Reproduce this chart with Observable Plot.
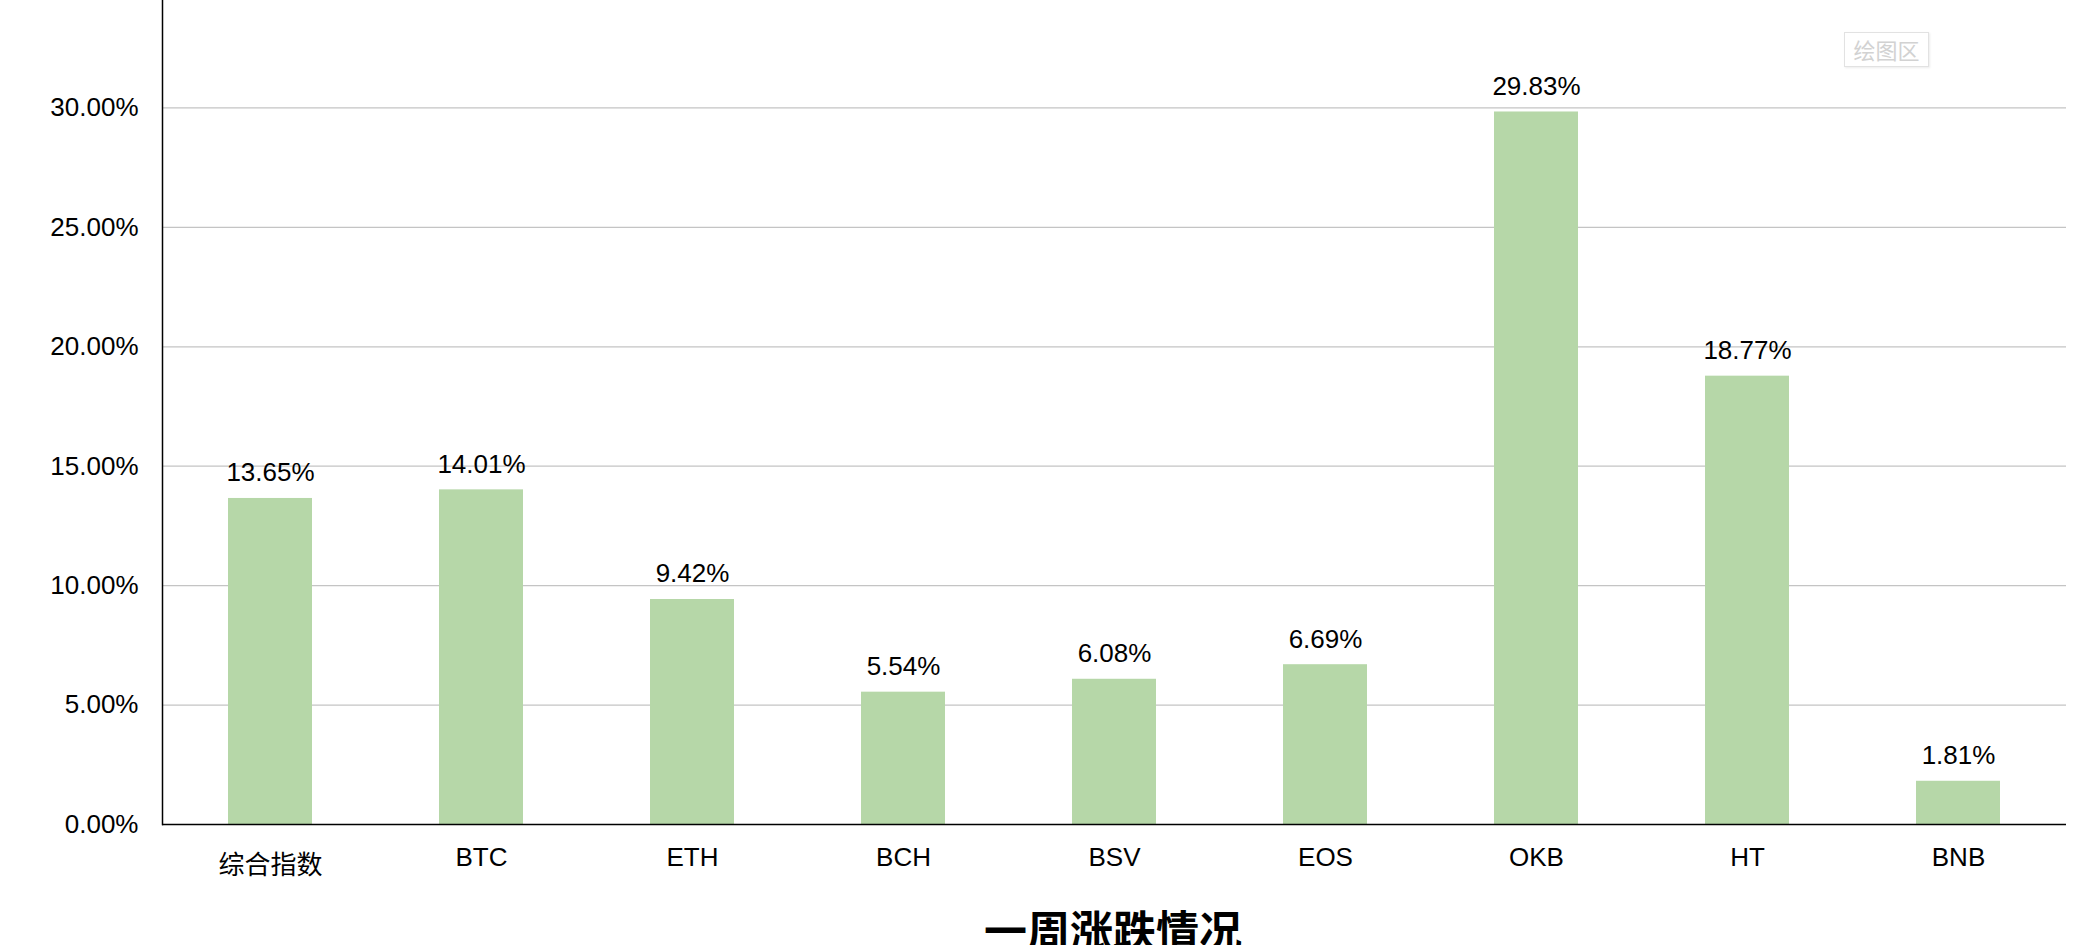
<!DOCTYPE html>
<html>
<head>
<meta charset="utf-8">
<script src="https://cdn.jsdelivr.net/npm/d3@7"></script>
<script src="https://cdn.jsdelivr.net/npm/@observablehq/plot@0.6"></script>
<style>
  html, body { margin: 0; padding: 0; background: #fff; overflow: hidden; }
  #wrap { position: relative; width: 2080px; height: 945px; overflow: hidden; background: #fff; }
  #chart { position: absolute; left: 0; top: -40px; }
  #title { position: absolute; left: 162px; width: 1902px; top: 907px; text-align: center;
           font-family: "Noto Sans CJK SC", sans-serif; font-weight: 700; font-size: 43px; line-height: 43px; color: #000; }
  #badge { position: absolute; left: 1844px; top: 32px; width: 85px; height: 35px; box-sizing: border-box;
           border: 1px solid #e2e2e2; box-shadow: 1px 1px 2px #ececec; color: #d2d2d2;
           font-family: "Noto Sans CJK SC", sans-serif; font-size: 22px; line-height: 33px; text-align: center; }
</style>
</head>
<body>
<div id="wrap">
  <div id="chart"></div>
  <div id="badge">绘图区</div>
  <div id="title">一周涨跌情况</div>
</div>
<script>
const categories = ["综合指数", "BTC", "ETH", "BCH", "BSV", "EOS", "OKB", "HT", "BNB"];
const changes = [0.1365, 0.1401, 0.0942, 0.0554, 0.0608, 0.0669, 0.2983, 0.1877, 0.0181];
const yTicks = [0, 0.05, 0.10, 0.15, 0.20, 0.25, 0.30, 0.35];

const data = categories.map((c, i) => ({name: c, value: changes[i]}));
const pct = d => (d * 100).toFixed(2) + "%";
const font = "'Liberation Sans', Arial, 'Noto Sans CJK SC', sans-serif";

const chart = Plot.plot({
  width: 2080,
  height: 985,
  marginTop: 28,
  marginBottom: 121,
  marginLeft: 162,
  marginRight: 14,
  style: {fontFamily: font, fontSize: "26px", color: "#000", background: "transparent"},
  x: {domain: categories, paddingInner: 0.6, paddingOuter: 0.3, label: null},
  y: {domain: [0, 0.35], label: null},
  marks: [
    Plot.gridY(yTicks.filter(t => t > 0), {stroke: "#c4c4c4", strokeOpacity: 1, strokeWidth: 1.3}),
    Plot.barY(data, {x: "name", y: "value", fill: "#b6d7a8"}),
    Plot.text(data, {x: "name", y: "value", text: d => pct(d.value), lineAnchor: "bottom", dy: -17, fontSize: 26, fill: "#000"}),
    Plot.axisY(yTicks, {tickSize: 0, tickPadding: 24, tickFormat: pct, fontSize: 26, fill: "#000"}),
    Plot.axisX(categories.slice(1), {tickSize: 0, tickPadding: 23, fontSize: 26, fill: "#000"}),
    Plot.axisX(categories.slice(0, 1), {tickSize: 0, tickPadding: 23, dy: 8, fontSize: 26, fill: "#000"}),
    Plot.frame({anchor: "left", stroke: "#000", strokeWidth: 1.5}),
    Plot.ruleY([0], {stroke: "#000", strokeWidth: 1.5})
  ]
});
document.getElementById("chart").appendChild(chart);
</script>
</body>
</html>
